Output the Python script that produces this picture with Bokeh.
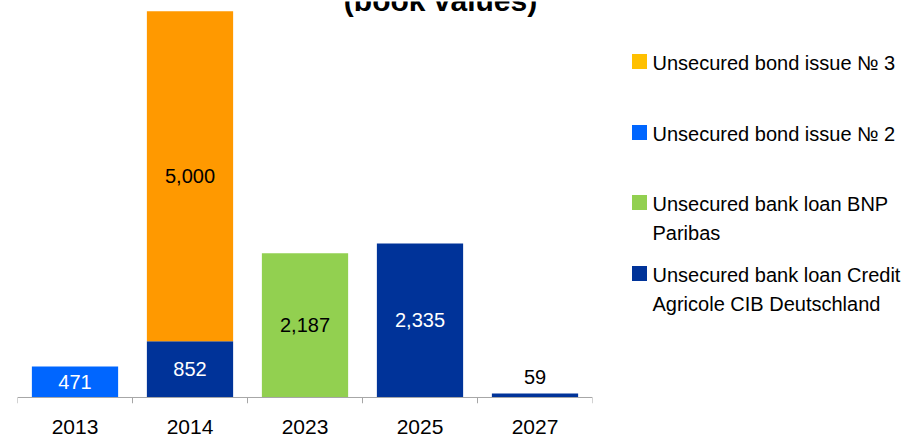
from bokeh.plotting import figure
from bokeh.models import Range1d, FactorRange, Label, ColumnDataSource, Span
from bokeh.layouts import row
from bokeh.core.properties import value
from bokeh.embed import file_html
from bokeh.resources import INLINE

# ---------------- data ----------------
years = ["2013", "2014", "2023", "2025", "2027"]
bond_issue_2 = [471, 0, 0, 0, 0]
credit_agricole = [0, 852, 0, 2335, 59]
bnp_paribas = [0, 0, 2187, 0, 0]
bond_issue_3 = [0, 5000, 0, 0, 0]

title_text = "(book values)"
legend_lines = [
    ["Unsecured bond issue  \u2116 3"],
    ["Unsecured bond issue  \u2116 2"],
    ["Unsecured bank loan BNP", "Paribas"],
    ["Unsecured bank loan Credit", "Agricole CIB Deutschland"],
]

# ---------------- styles ----------------
FONT = "Liberation Sans, Arial, sans-serif"
C_BOND3 = "#FF9900"
C_BOND2 = "#0066FF"
C_BNP = "#92D050"
C_CA = "#003399"
LEGEND_COLORS = ["#FFC000", C_BOND2, C_BNP, C_CA]
AXIS_GRAY = "#A6A6A6"
TICK_DEPTH = 91  # data units below zero (~6 px)

stack_keys = ["bond2", "credit", "bnp", "bond3"]
stack_vals = [bond_issue_2, credit_agricole, bnp_paribas, bond_issue_3]
stack_colors = [C_BOND2, C_CA, C_BNP, C_BOND3]
text_colors = ["white", "white", "black", "black"]

src = ColumnDataSource(dict(years=years, bond2=bond_issue_2, credit=credit_agricole,
                            bnp=bnp_paribas, bond3=bond_issue_3))

H = 443
p = figure(x_range=FactorRange(factors=years, range_padding=0),
           y_range=Range1d(-TICK_DEPTH, 6000),
           width=598, height=H, output_backend="svg", toolbar_location=None,
           y_axis_location=None,
           min_border_left=17, min_border_right=6, min_border_top=1, min_border_bottom=40)
p.outline_line_color = None
p.xgrid.visible = False
p.ygrid.visible = False
p.background_fill_color = "white"
p.border_fill_color = "white"

p.vbar_stack(stack_keys, x="years", width=0.75, fill_color=stack_colors,
             line_color=None, source=src)

# baseline and category-boundary ticks
p.add_layout(Span(location=0, dimension="width", line_color=AXIS_GRAY, line_width=1))
bx = [(y, -0.5) for y in years] + [(years[-1], 0.5)]
p.segment(x0=bx, y0=[0] * len(bx), x1=bx, y1=[-TICK_DEPTH] * len(bx),
          line_color=AXIS_GRAY, line_width=1)

# value labels
mid_x, mid_y, mid_t, mid_c = [], [], [], []
top_x, top_y, top_t = [], [], []
bottoms = [0] * len(years)
for vals, tc in zip(stack_vals, text_colors):
    for i, v in enumerate(vals):
        if v > 0:
            if v < 300:
                top_x.append(years[i]); top_y.append(bottoms[i] + v); top_t.append(f"{v:,}")
            else:
                mid_x.append(years[i]); mid_y.append(bottoms[i] + v / 2)
                mid_t.append(f"{v:,}"); mid_c.append(tc)
        bottoms[i] += v

p.text(x=mid_x, y=mid_y, text=mid_t, text_color=mid_c, text_align="center",
       text_baseline="middle", text_font=value(FONT), text_font_size="20px")
p.text(x=top_x, y=top_y, text=top_t, text_color="black", text_align="center",
       text_baseline="alphabetic", y_offset=-17, text_font=value(FONT), text_font_size="20px")

ax = p.xaxis[0]
ax.axis_line_color = None
ax.major_tick_line_color = None
ax.minor_tick_line_color = None
ax.major_tick_out = 0
ax.major_tick_in = 0
ax.major_label_text_font_size = "21px"
ax.major_label_text_font = FONT
ax.major_label_text_color = "black"
ax.major_label_standoff = 16

p.add_layout(Label(x=423, y=6008, x_units="screen", y_units="data", text=title_text,
                   text_align="center", text_baseline="alphabetic",
                   text_font=FONT, text_font_style="bold", text_font_size="30px",
                   text_color="black"))

# ---------------- legend panel ----------------
LW = 306
p2 = figure(frame_width=LW, frame_height=H, x_range=Range1d(0, LW), y_range=Range1d(H, 0),
            output_backend="svg", toolbar_location=None,
            x_axis_location=None, y_axis_location=None,
            min_border_left=0, min_border_right=0, min_border_top=0, min_border_bottom=0)
p2.outline_line_color = None
p2.xgrid.visible = False
p2.ygrid.visible = False

item_y = [60, 131, 201, 272]
line_step = 29
sq_x = [41] * len(item_y)
p2.rect(x=sq_x, y=item_y, width=15, height=15, fill_color=LEGEND_COLORS, line_color=None)
lx, ly, lt = [], [], []
for y0, lines in zip(item_y, legend_lines):
    for k, t in enumerate(lines):
        lx.append(54); ly.append(y0 + 1 + k * line_step); lt.append(t)
p2.text(x=lx, y=ly, text=lt, text_color="black", text_align="left", text_baseline="middle",
        text_font=value(FONT), text_font_size="20px")

layout = row(p, p2, styles={"margin-bottom": "-6px"})

open("out.html", "w").write(file_html(layout, INLINE))
